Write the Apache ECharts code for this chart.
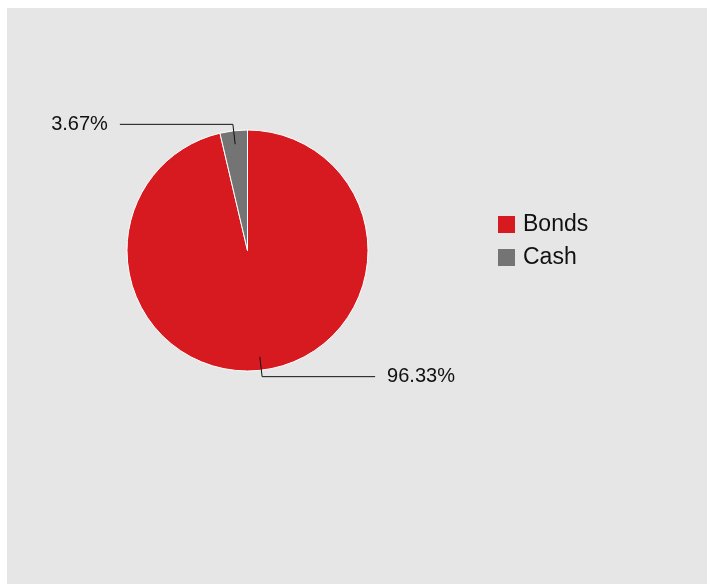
<!DOCTYPE html>
<html>
<head>
<meta charset="utf-8">
<script src="https://cdn.jsdelivr.net/npm/echarts@6/dist/echarts.min.js"></script>
<style>
  html, body { margin: 0; padding: 0; background: #ffffff; width: 707px; height: 584px; overflow: hidden; }
  #chart { position: absolute; left: 7px; top: 8px; width: 700px; height: 576px; background: #e6e6e6; }
</style>
</head>
<body>
<div id="chart"></div>
<script>
const categories = ['Bonds', 'Cash'];
const values = [96.33, 3.67];
const colors = ['#d71920', '#747474'];

const chart = echarts.init(document.getElementById('chart'));
const center = [240.5, 242.5];
const dataMain = categories.map((c, i) => ({ name: c, value: values[i], itemStyle: { color: colors[i] } }));
const dataLabel = categories.map((c, i) => ({ name: c, value: values[i] }));

chart.setOption({
  animation: false,
  backgroundColor: '#e6e6e6',
  legend: {
    orient: 'vertical',
    left: 491,
    top: 205,
    padding: 0,
    icon: 'rect',
    itemWidth: 17,
    itemHeight: 17,
    itemGap: 10,
    itemStyle: { borderWidth: 0 },
    data: categories,
    textStyle: { fontFamily: 'Liberation Sans, Arial, sans-serif', fontSize: 23, lineHeight: 23, color: '#111', padding: [0, 0, 0, 3] }
  },
  series: [
    {
      type: 'pie',
      z: 2,
      center: center,
      radius: 120.5,
      startAngle: 90,
      clockwise: true,
      silent: true,
      data: dataMain,
      itemStyle: { borderColor: '#ffffff', borderWidth: 1 },
      label: { show: false },
      labelLine: { show: false }
    },
    {
      type: 'pie',
      z: 5,
      center: center,
      radius: 107,
      startAngle: 90,
      clockwise: true,
      silent: true,
      legendHoverLink: false,
      data: dataLabel,
      itemStyle: { color: 'rgba(0,0,0,0)', borderWidth: 0 },
      label: {
        show: true,
        formatter: p => p.value.toFixed(2) + '%',
        fontFamily: 'Liberation Sans, Arial, sans-serif',
        fontSize: 20,
        color: '#111',
        distanceToLabelLine: 12
      },
      labelLine: {
        show: true,
        length: 20,
        length2: 113,
        smooth: false,
        lineStyle: { color: '#111', width: 1 }
      },
      avoidLabelOverlap: false
    }
  ]
});
</script>
</body>
</html>
